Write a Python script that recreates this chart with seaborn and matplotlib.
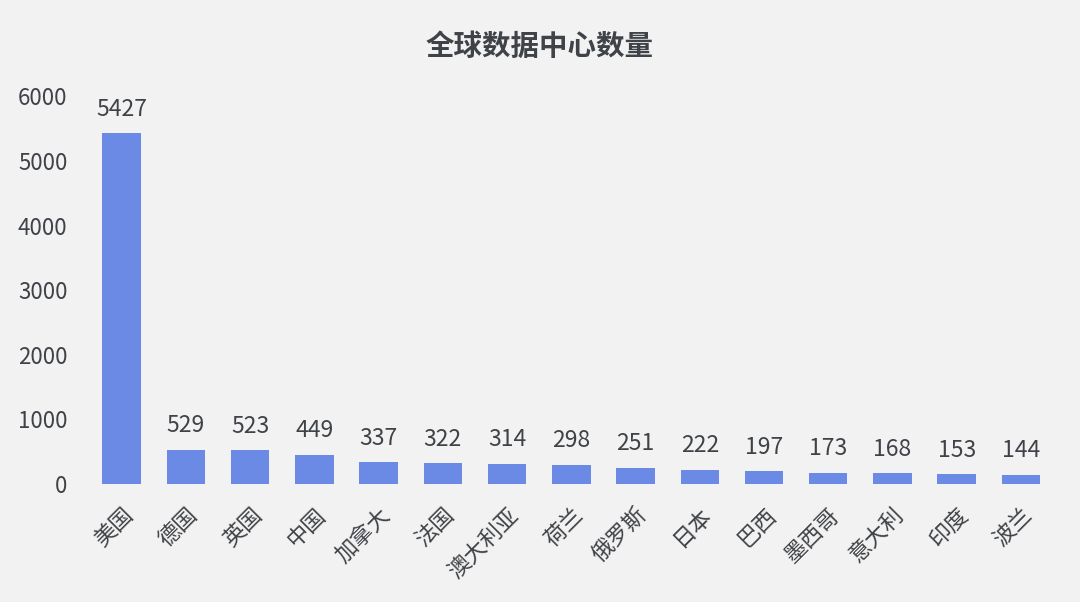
import matplotlib
matplotlib.use('Agg')
import matplotlib.pyplot as plt
import seaborn as sns
import pandas as pd

countries = ['美国', '德国', '英国', '中国', '加拿大', '法国', '澳大利亚', '荷兰',
             '俄罗斯', '日本', '巴西', '墨西哥', '意大利', '印度', '波兰']
counts = [5427, 529, 523, 449, 337, 322, 314, 298, 251, 222, 197, 173, 168, 153, 144]
y_ticks = [0, 1000, 2000, 3000, 4000, 5000, 6000]

df = pd.DataFrame({'country': countries, 'count': counts})

sns.set_style('white')
plt.rcParams['font.family'] = ['Noto Sans CJK SC', 'DejaVu Sans']

bg = '#f2f2f2'
txt = '#3f4247'
bar_color = '#6b8ae6'

fig = plt.figure(figsize=(10.8, 6.02), dpi=100, facecolor=bg)
ax = fig.add_axes([0.083, 0.196, 0.892, 0.644], facecolor=bg)

sns.barplot(data=df, x='country', y='count', color=bar_color, width=0.6,
            saturation=1, linewidth=0, ax=ax)

for i, v in enumerate(counts):
    ax.annotate(str(v), (i, v), xytext=(0, 9), textcoords='offset points',
                ha='center', va='bottom', fontsize=16.5, color=txt)

ax.set_ylim(0, 6000)
ax.set_xlim(-0.5, len(countries) - 0.5)
ax.set_yticks(y_ticks)
ax.set_yticklabels([str(t) for t in y_ticks], fontsize=16, color=txt)
ax.set_xticks(range(len(countries)))
ax.set_xticklabels(countries, rotation=45, ha='right', rotation_mode='anchor',
                   fontsize=16, color=txt)
ax.tick_params(axis='x', length=0, pad=14)
ax.tick_params(axis='y', length=0, pad=16)
ax.set_xlabel('')
ax.set_ylabel('')
sns.despine(ax=ax, left=True, bottom=True)

fig.suptitle('全球数据中心数量', x=0.5, y=0.945, fontsize=20.5,
             fontweight='bold', color=txt)

fig.savefig('out.png', dpi=100, facecolor=bg)
